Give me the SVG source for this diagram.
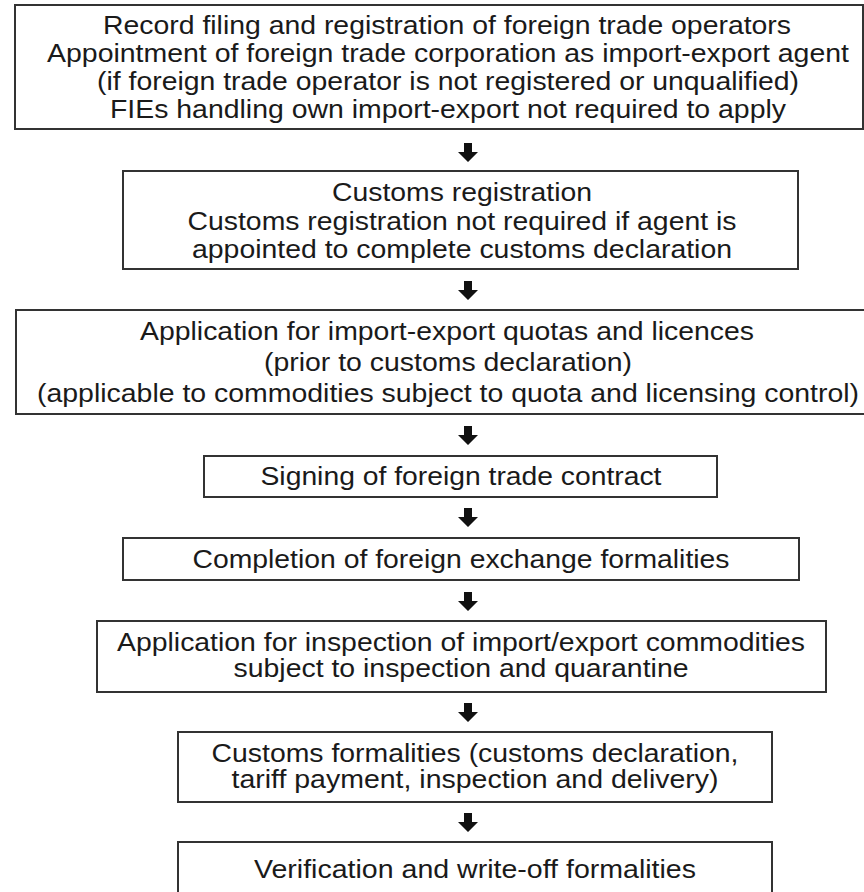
<svg xmlns="http://www.w3.org/2000/svg" xmlns:xlink="http://www.w3.org/1999/xlink" width="864" height="892" viewBox="0 0 864 892">
<style>
.box{fill:#fff;stroke:#333;stroke-width:2}
text{font-family:"Liberation Sans",Arial,sans-serif;font-size:25.5px;fill:#1a1a1a;text-anchor:middle}
.arr{fill:#111}
</style>
<defs>
<path id="arr" d="M-4,0 H4 V9 H10 L0,19 L-10,9 H-4 Z"/>
</defs>
<rect width="864" height="892" fill="#fff"/>
<g id="connectors" class="arr">
<use href="#arr" x="468" y="143"/>
<use href="#arr" x="468" y="281"/>
<use href="#arr" x="468" y="426"/>
<use href="#arr" x="468" y="508"/>
<use href="#arr" x="468" y="592"/>
<use href="#arr" x="468" y="703"/>
<use href="#arr" x="468" y="813"/>
</g>
<g id="n1">
<rect class="box" x="15" y="5" width="848" height="124"/>
<text x="447" y="34" textLength="688" lengthAdjust="spacingAndGlyphs">Record filing and registration of foreign trade operators</text>
<text x="448" y="62" textLength="802" lengthAdjust="spacingAndGlyphs">Appointment of foreign trade corporation as import-export agent</text>
<text x="448" y="90" textLength="702" lengthAdjust="spacingAndGlyphs">(if foreign trade operator is not registered or unqualified)</text>
<text x="448" y="118" textLength="676" lengthAdjust="spacingAndGlyphs">FIEs handling own import-export not required to apply</text>
</g>
<g id="n2">
<rect class="box" x="123" y="171" width="675" height="98"/>
<text x="462" y="201" textLength="260" lengthAdjust="spacingAndGlyphs">Customs registration</text>
<text x="462" y="229.5" textLength="549" lengthAdjust="spacingAndGlyphs">Customs registration not required if agent is</text>
<text x="462" y="258" textLength="540" lengthAdjust="spacingAndGlyphs">appointed to complete customs declaration</text>
</g>
<g id="n3">
<rect class="box" x="16" y="310" width="864" height="104"/>
<text x="447" y="340" textLength="614" lengthAdjust="spacingAndGlyphs">Application for import-export quotas and licences</text>
<text x="448" y="371" textLength="368" lengthAdjust="spacingAndGlyphs">(prior to customs declaration)</text>
<text x="448" y="402" textLength="822" lengthAdjust="spacingAndGlyphs">(applicable to commodities subject to quota and licensing control)</text>
</g>
<g id="n4">
<rect class="box" x="204" y="456" width="513" height="41"/>
<text x="461" y="485" textLength="401" lengthAdjust="spacingAndGlyphs">Signing of foreign trade contract</text>
</g>
<g id="n5">
<rect class="box" x="123" y="538" width="676" height="42"/>
<text x="461" y="568" textLength="537" lengthAdjust="spacingAndGlyphs">Completion of foreign exchange formalities</text>
</g>
<g id="n6">
<rect class="box" x="97" y="621" width="729" height="71"/>
<text x="461" y="651" textLength="688" lengthAdjust="spacingAndGlyphs">Application for inspection of import/export commodities</text>
<text x="461" y="677" textLength="455" lengthAdjust="spacingAndGlyphs">subject to inspection and quarantine</text>
</g>
<g id="n7">
<rect class="box" x="178" y="732" width="594" height="70"/>
<text x="475" y="762" textLength="527" lengthAdjust="spacingAndGlyphs">Customs formalities (customs declaration,</text>
<text x="475" y="788" textLength="487" lengthAdjust="spacingAndGlyphs">tariff payment, inspection and delivery)</text>
</g>
<g id="n8">
<rect class="box" x="178" y="842" width="594" height="70"/>
<text x="475" y="878" textLength="442" lengthAdjust="spacingAndGlyphs">Verification and write-off formalities</text>
</g>
</svg>
